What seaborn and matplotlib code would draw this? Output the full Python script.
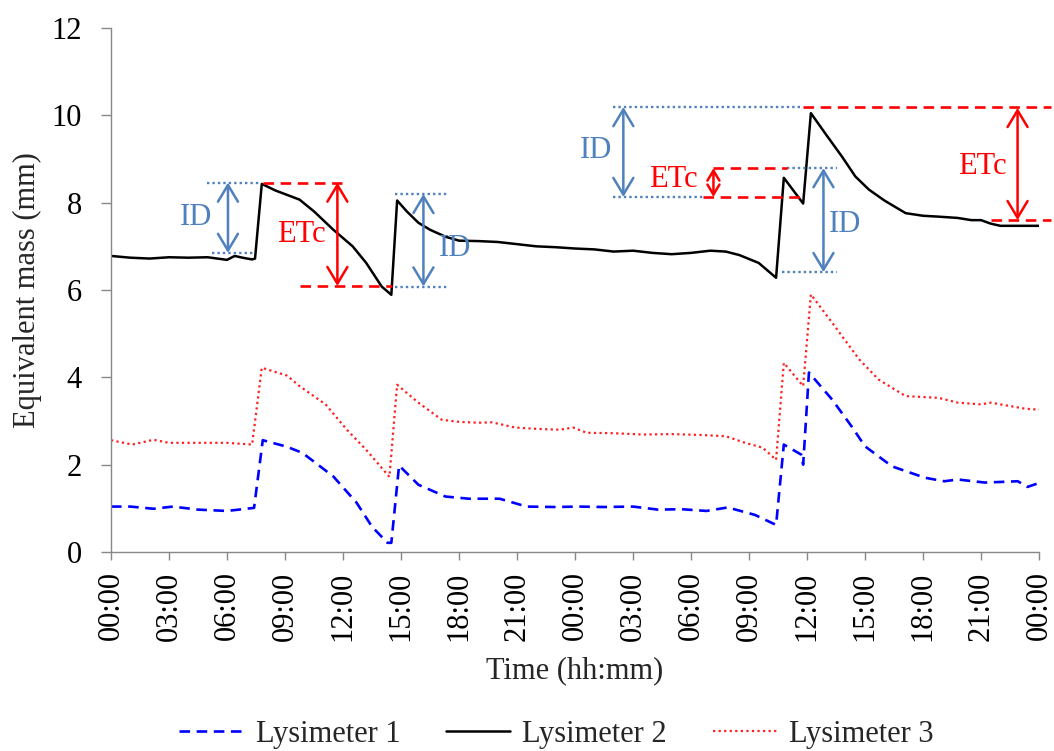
import matplotlib
matplotlib.use("Agg")
import matplotlib.pyplot as plt
import seaborn as sns
import pandas as pd

# ---------------- data (hours since start, equivalent mass in mm) ----------------
lys1_hours = [0, 1, 2.2, 3.2, 4.5, 6, 7.4, 7.85, 9.1, 9.9, 11.5, 12.7, 13.5, 14.3, 14.5,
              14.9, 15.9, 17.3, 18.5, 20.1, 21.5, 23, 24.2, 25.5, 27, 28.3, 29.5, 30.8,
              31.9, 33.3, 34.4, 34.8, 35.7, 35.8, 36.1, 37.3, 38.3, 39.0, 40.4, 42.1,
              43.1, 43.8, 45.2, 46.9, 47.4, 48]
lys1_mass = [1.04, 1.04, 0.99, 1.04, 0.97, 0.94, 1.01, 2.56, 2.41, 2.27, 1.73, 1.13, 0.58,
             0.21, 0.21, 1.98, 1.54, 1.27, 1.22, 1.22, 1.04, 1.03, 1.04, 1.03, 1.04, 0.97,
             0.98, 0.94, 1.02, 0.85, 0.62, 2.46, 2.23, 2.00, 4.11, 3.49, 2.88, 2.42, 1.96,
             1.70, 1.62, 1.66, 1.59, 1.62, 1.49, 1.58]

lys2_hours = [0, 1, 2, 3, 4, 5, 6, 6.4, 6.8, 7.3, 7.45, 7.8, 8.5, 9.75, 10.5, 11.5, 12.5,
              13.2, 14.0, 14.5, 14.8, 15.3, 15.9, 16.5, 17.3, 18, 19, 20, 21, 22, 23, 24,
              25, 26, 27, 28, 29, 30, 31, 31.8, 32.5, 33.5, 34.4, 34.8, 35.8, 36.2, 37,
              37.8, 38.5, 39.2, 40, 41.1, 42, 42.8, 43.8, 44.5, 45, 45.5, 46, 47, 48]
lys2_mass = [6.78, 6.74, 6.72, 6.75, 6.74, 6.75, 6.69, 6.78, 6.74, 6.70, 6.72, 8.43, 8.28,
             8.07, 7.80, 7.38, 7.00, 6.62, 6.08, 5.89, 8.05, 7.80, 7.54, 7.38, 7.22, 7.13,
             7.12, 7.10, 7.05, 7.00, 6.98, 6.95, 6.93, 6.88, 6.90, 6.85, 6.82, 6.85, 6.90,
             6.88, 6.80, 6.62, 6.28, 8.57, 7.98, 10.05, 9.55, 9.06, 8.60, 8.30, 8.05, 7.76,
             7.70, 7.68, 7.65, 7.60, 7.60, 7.52, 7.47, 7.47, 7.47]

lys3_hours = [0, 1.1, 2.2, 3, 4, 5, 6, 7.3, 7.8, 9.1, 9.75, 11.1, 12.2, 13.2, 14.4, 14.8,
              15.9, 17.1, 18, 19, 19.7, 20.9, 22, 23.2, 23.9, 24.6, 26, 27.5, 29, 30.5,
              31.8, 32.8, 33.7, 34.4, 34.8, 35.8, 36.2, 37.3, 38.7, 39.7, 41.1, 42.8, 43.8,
              45.0, 45.5, 47.3, 48]
lys3_mass = [2.56, 2.46, 2.57, 2.50, 2.50, 2.50, 2.50, 2.46, 4.22, 4.04, 3.80, 3.38, 2.80,
             2.34, 1.72, 3.83, 3.42, 3.03, 2.98, 2.96, 2.97, 2.85, 2.82, 2.80, 2.85, 2.73,
             2.72, 2.69, 2.70, 2.68, 2.65, 2.50, 2.39, 2.11, 4.33, 3.80, 5.90, 5.25, 4.41,
             3.95, 3.57, 3.53, 3.42, 3.38, 3.42, 3.28, 3.26]

series_names = ["Lysimeter 1", "Lysimeter 2", "Lysimeter 3"]

tick_hours = list(range(0, 49, 3))
tick_labels = ["00:00", "03:00", "06:00", "09:00", "12:00", "15:00", "18:00", "21:00",
               "00:00", "03:00", "06:00", "09:00", "12:00", "15:00", "18:00", "21:00", "00:00"]
y_ticks = [0, 2, 4, 6, 8, 10, 12]

# annotations: (hour of arrow, low value, high value, label, label hour, label value)
id_arrows = [(6.05, 6.85, 8.46, "ID", 4.41, 7.67),
             (16.16, 6.08, 8.20, "ID", 17.8, 6.96),
             (26.5, 8.13, 10.19, "ID", 25.1, 9.20),
             (36.85, 6.41, 8.79, "ID", 37.98, 7.49)]
etc_arrows = [(11.71, 6.09, 8.46, "ETc", 9.84, 7.26),
              (31.16, 8.13, 8.79, "ETc", 29.1, 8.52),
              (46.89, 7.60, 10.17, "ETc", 45.08, 8.82)]
# guide lines: (value, start hour, end hour)
id_guides = [(8.46, 4.98, 7.72), (6.85, 5.24, 7.46),
             (8.20, 14.71, 17.45), (6.08, 14.71, 17.45),
             (10.19, 25.98, 35.81), (8.13, 25.98, 30.64),
             (8.79, 34.99, 37.57), (6.41, 34.73, 37.57)]
etc_guides = [(8.46, 7.88, 11.97), (6.09, 9.79, 14.55),
              (8.79, 31.16, 34.99), (8.13, 30.64, 35.76),
              (10.19, 35.81, 48.6), (7.60, 45.49, 48.6)]

# ---------------- style ----------------
sns.set_theme(style="white")
plt.rcParams["font.family"] = ["Liberation Serif", "DejaVu Serif"]
plt.rcParams["font.size"] = 22

fig = plt.figure(figsize=(10.54, 7.51), dpi=100)
ax = fig.add_axes([0.1053, 0.265, 0.9858 - 0.1053, 0.9627 - 0.265])

df1 = pd.DataFrame({"hour": lys1_hours, "mass": lys1_mass})
df2 = pd.DataFrame({"hour": lys2_hours, "mass": lys2_mass})
df3 = pd.DataFrame({"hour": lys3_hours, "mass": lys3_mass})

sns.lineplot(data=df1, x="hour", y="mass", ax=ax, color="#0000FF", lw=1.9,
             label=series_names[0])
ax.lines[-1].set_dashes((4, 2.5))
sns.lineplot(data=df2, x="hour", y="mass", ax=ax, color="black", lw=1.8,
             label=series_names[1])
sns.lineplot(data=df3, x="hour", y="mass", ax=ax, color="#FF2020", lw=1.6,
             label=series_names[2])
ax.lines[-1].set_linestyle((0, (1, 1.5)))

id_col = "#4F81BD"
etc_col = "#FF0000"

for v, h0, h1 in id_guides:
    ax.plot([h0, h1], [v, v], color=id_col, lw=1.7, ls=(0, (1, 1.3)), clip_on=False)
for v, h0, h1 in etc_guides:
    ax.plot([h0, h1], [v, v], color=etc_col, lw=1.9, ls=(0, (4, 2.5)), clip_on=False)

arrow_style = "<->,head_length=0.6,head_width=0.36"
for h, lo, hi, txt, th, tv in id_arrows:
    ax.annotate("", xy=(h, hi), xytext=(h, lo),
                arrowprops=dict(arrowstyle=arrow_style, color=id_col, lw=1.8,
                                mutation_scale=20, shrinkA=0, shrinkB=0))
    ax.text(th, tv, txt, color=id_col, fontsize=22, ha="center", va="center")
for h, lo, hi, txt, th, tv in etc_arrows:
    ax.annotate("", xy=(h, hi), xytext=(h, lo),
                arrowprops=dict(arrowstyle=arrow_style, color=etc_col, lw=1.8,
                                mutation_scale=20 if hi - lo > 1 else 12,
                                shrinkA=0, shrinkB=0))
    ax.text(th, tv, txt, color=etc_col, fontsize=22, ha="center", va="center")

ax.set_xlim(0, 48)
ax.set_ylim(0, 12)
ax.set_xticks(tick_hours)
ax.set_xticklabels(tick_labels, rotation=90, fontsize=22)
ax.set_yticks(y_ticks)
ax.set_yticklabels([str(t) for t in y_ticks], fontsize=22)
ax.set_xlabel("Time (hh:mm)", fontsize=22, labelpad=11)
ax.set_ylabel("Equivalent mass (mm)", fontsize=22, labelpad=7)

sns.despine(ax=ax)
for s in ["left", "bottom"]:
    ax.spines[s].set_color("#888888")
    ax.spines[s].set_linewidth(1.0)
ax.tick_params(axis="y", which="major", left=True, length=7, width=1.0,
               color="#888888", pad=14, labelcolor="black")
ax.tick_params(axis="x", which="major", bottom=True, length=6, width=1.0,
               color="#888888", pad=8, labelcolor="black")

ax.get_legend().remove()
handles = ax.lines[:3]
fig.legend(handles, series_names, loc="center", bbox_to_anchor=(0.528, 0.022),
           ncol=3, frameon=False, fontsize=22, handlelength=2.1,
           handletextpad=0.4, columnspacing=1.5)

fig.savefig("out.png", dpi=100)
